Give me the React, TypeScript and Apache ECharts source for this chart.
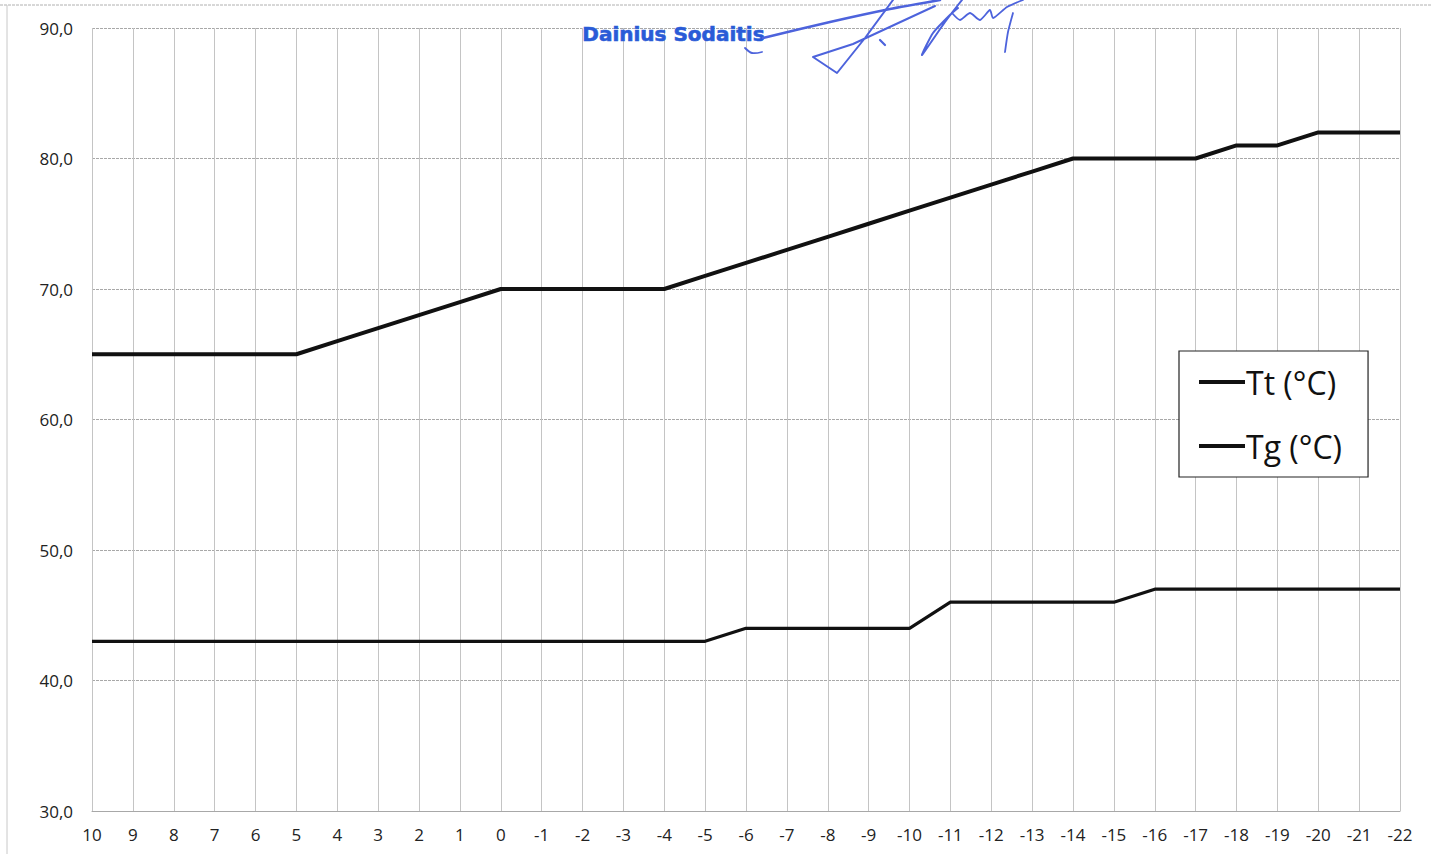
import React, { useEffect, useRef } from "react";
import * as echarts from "echarts";

const categories = ["10","9","8","7","6","5","4","3","2","1","0","-1","-2","-3","-4","-5","-6","-7","-8","-9","-10","-11","-12","-13","-14","-15","-16","-17","-18","-19","-20","-21","-22"];
const ttValues = [65,65,65,65,65,65,66,67,68,69,70,70,70,70,70,71,72,73,74,75,76,77,78,79,80,80,80,80,81,81,82,82,82];
const tgValues = [43,43,43,43,43,43,43,43,43,43,43,43,43,43,43,43,44,44,44,44,44,46,46,46,46,46,47,47,47,47,47,47,47];
const seriesNames = ["Tt (°C)", "Tg (°C)"];
const yTicks = { min: 30, max: 90, interval: 10 };
const stampText = "Dainius Sodaitis";

export default function App() {
  const ref = useRef<HTMLDivElement>(null);
  useEffect(() => {
    document.body.style.margin = "0";
    const chart = echarts.init(ref.current!, null, { renderer: "svg" });
    const blue = "#4d63dc";
    const sig = (points: number[][], w = 2, smooth = 0.35) => ({
      type: "polyline",
      shape: { points, smooth },
      style: { stroke: blue, lineWidth: w, fill: "none", lineCap: "round", lineJoin: "round" },
      z: 10,
      silent: true,
    });
    chart.setOption({
      animation: false,
      backgroundColor: "#ffffff",
      grid: { left: 92, right: 32, top: 28, bottom: 43, containLabel: false },
      xAxis: {
        type: "category",
        data: categories,
        boundaryGap: false,
        axisLine: { show: true, lineStyle: { color: "#a8a8a8", width: 1 } },
        axisTick: { show: false },
        splitLine: { show: true, lineStyle: { color: "#c4c4c4", width: 1 } },
        axisLabel: { color: "#222", fontSize: 17, fontFamily: "Open Sans", margin: 15, interval: 0 },
      },
      yAxis: {
        type: "value",
        min: yTicks.min,
        max: yTicks.max,
        interval: yTicks.interval,
        axisLine: { show: false },
        axisTick: { show: false },
        splitLine: { show: true, lineStyle: { color: "#a8a8a8", width: 1, type: [3, 1] } },
        axisLabel: {
          color: "#222",
          fontSize: 17,
          fontFamily: "Open Sans",
          margin: 19,
          formatter: (v: number) => v.toFixed(1).replace(".", ","),
        },
      },
      legend: {
        show: true,
        orient: "vertical",
        left: 1179,
        top: 351,
        padding: [12, 26, 12, 20],
        itemGap: 26,
        itemWidth: 46,
        itemHeight: 4,
        icon: "rect",
        borderColor: "#222",
        borderWidth: 1.2,
        backgroundColor: "#fff",
        textStyle: { fontSize: 32, lineHeight: 38, color: "#111", fontFamily: "Open Sans", padding: [0, 0, 0, -4] },
        data: seriesNames,
      },
      series: [
        {
          name: seriesNames[0],
          type: "line",
          data: ttValues,
          showSymbol: false,
          lineStyle: { color: "#111", width: 4 },
          itemStyle: { color: "#111" },
        },
        {
          name: seriesNames[1],
          type: "line",
          data: tgValues,
          showSymbol: false,
          lineStyle: { color: "#111", width: 3.2 },
          itemStyle: { color: "#111" },
        },
      ],
      graphic: [
        { type: "line", shape: { x1: 0, y1: 5, x2: 1432, y2: 5 }, style: { stroke: "#b0b0b0", lineWidth: 1, lineDash: [3, 1] }, silent: true },
        { type: "line", shape: { x1: 7, y1: 5, x2: 7, y2: 854 }, style: { stroke: "#c8c8c8", lineWidth: 1 }, silent: true },
        {
          type: "text",
          left: 582,
          top: 24,
          style: { text: stampText, fontSize: 20, fontWeight: "bold", fill: "#2a5bd7", fontFamily: "DejaVu Sans", stroke: "#2a5bd7", lineWidth: 0.6 },
          z: 10,
        },
        sig([[763, 38], [830, 22], [890, 9], [940, 0]], 2.5, 0.2),
        sig([[745, 48], [752, 53], [762, 52]], 1.8),
        sig([[893, 0], [865, 38], [837, 73], [813, 57], [853, 44], [935, 6]], 2, 0),
        sig([[880, 40], [885, 45]], 2.2, 0),
        sig([[962, 0], [945, 22], [922, 55], [933, 33], [952, 13], [958, 8]], 2, 0.2),
        sig([[952, 13], [960, 20], [970, 13], [980, 20], [990, 10], [993, 18], [1007, 7], [1023, 0]], 1.8, 0.2),
        sig([[1013, 13], [1008, 32], [1005, 52]], 1.8, 0.2),
      ],
    });
    return () => chart.dispose();
  }, []);
  return <div ref={ref} style={{ width: 1432, height: 854 }} />;
}
